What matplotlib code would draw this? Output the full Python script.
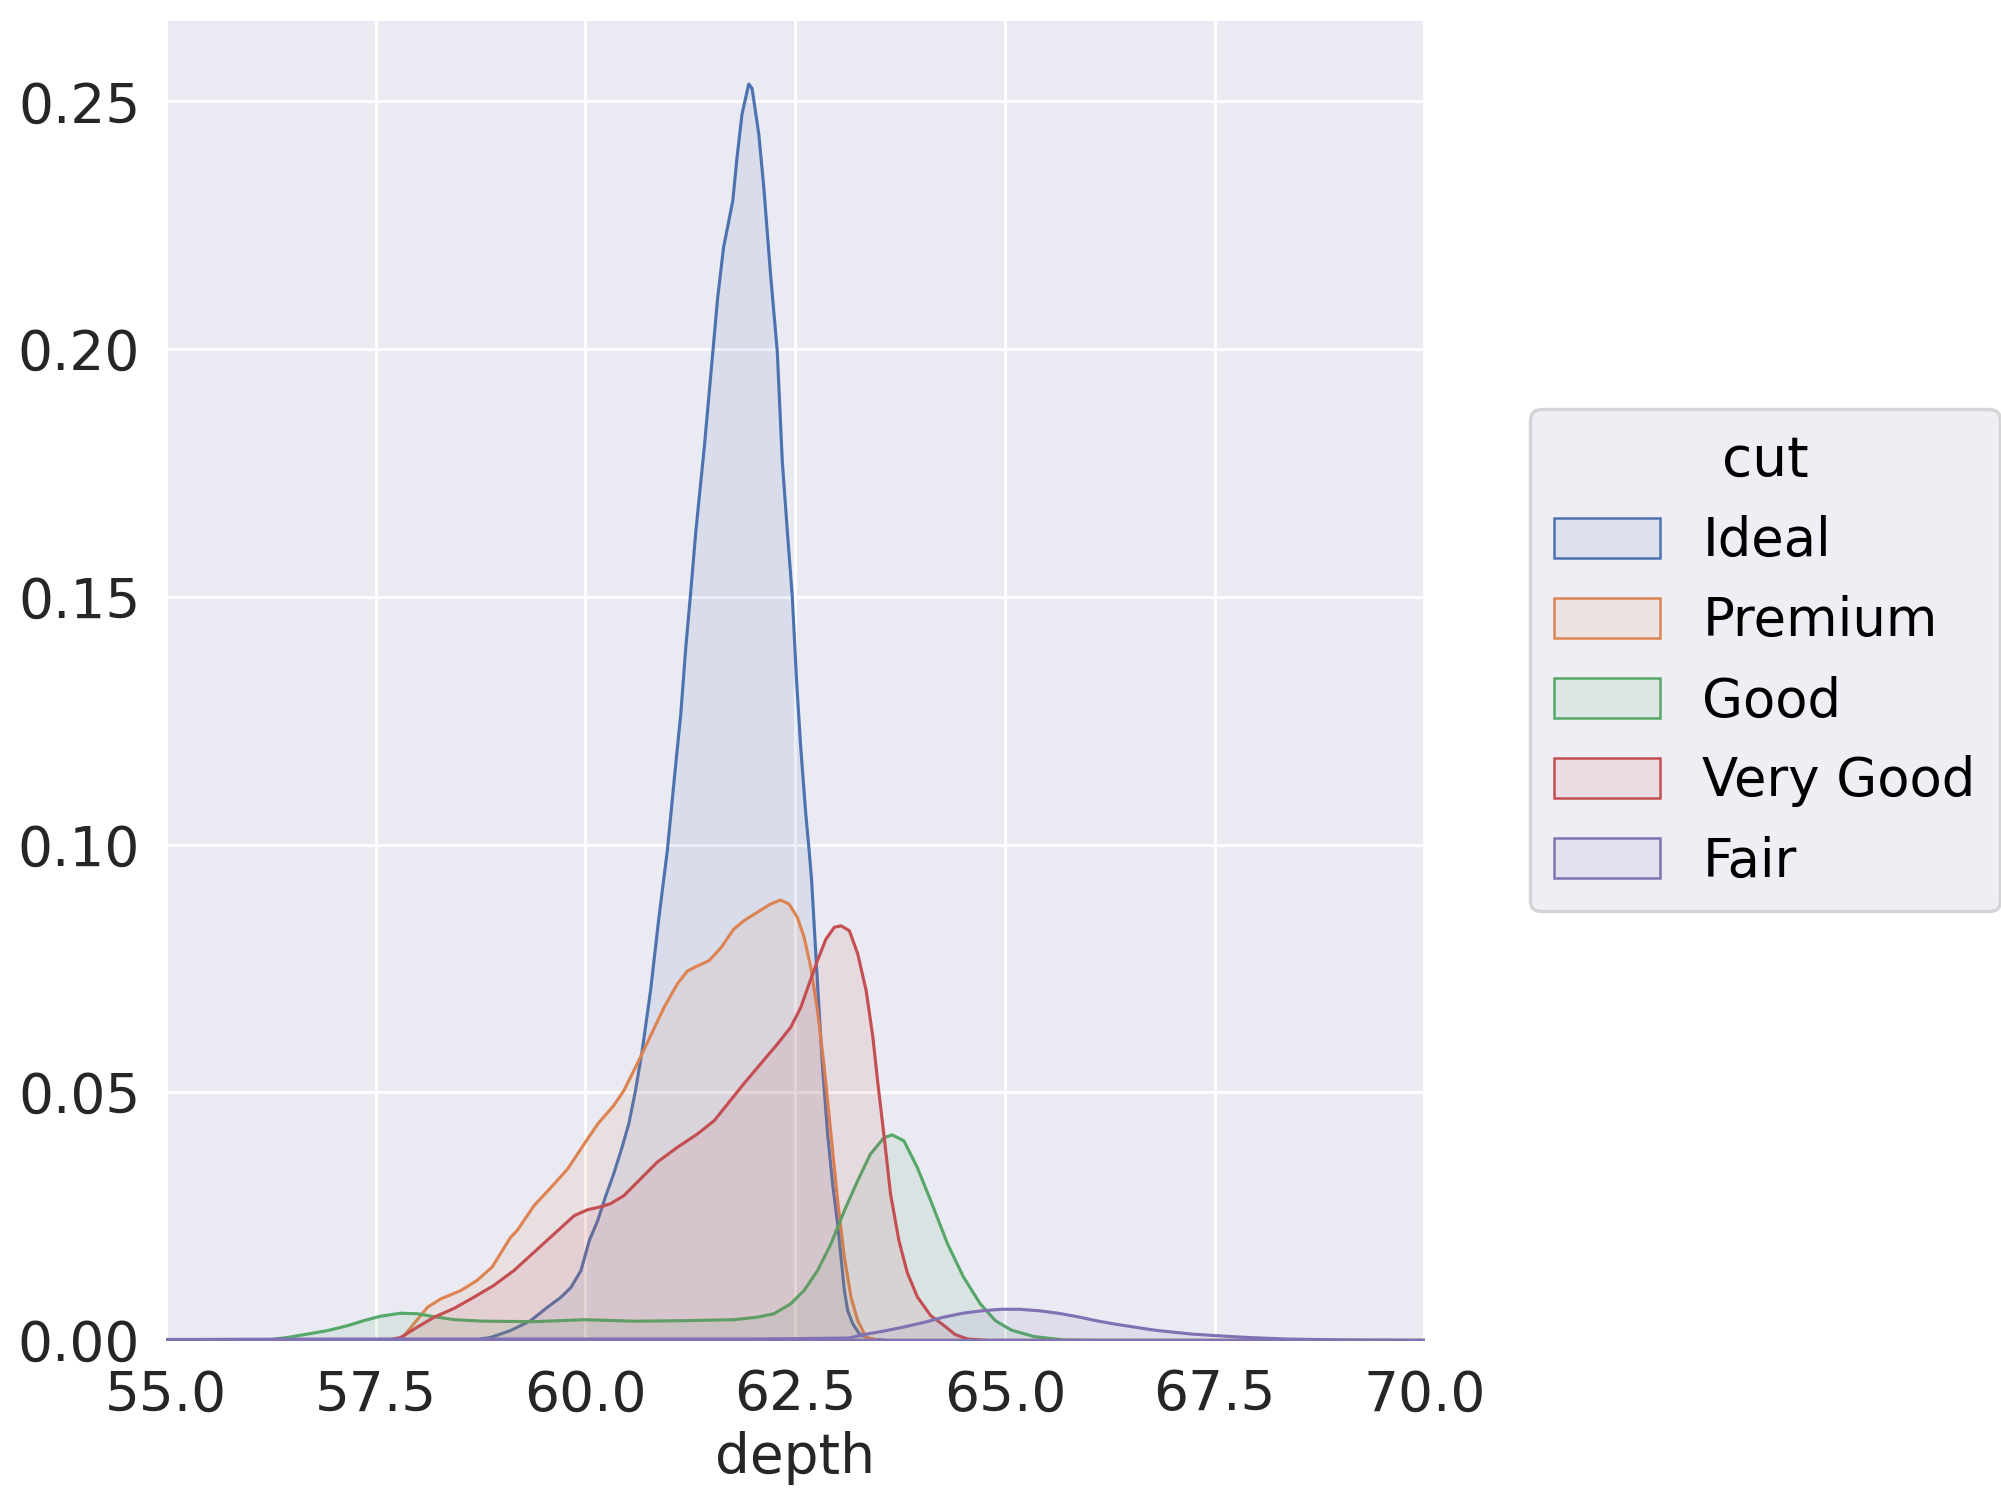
import numpy as np
import matplotlib
matplotlib.use("Agg")
import matplotlib.pyplot as plt
from matplotlib.patches import Patch
from matplotlib.colors import to_rgba

# ---------------- data ----------------
cut_levels = ["Ideal", "Premium", "Good", "Very Good", "Fair"]
cut_colors = ["#4C72B0", "#DD8452", "#55A868", "#C44E52", "#8172B3"]

ideal_x = [55.0, 58.0, 58.63, 58.86, 59.10, 59.34, 59.54, 59.70, 59.82, 59.94, 60.04,
           60.14, 60.23, 60.33, 60.43, 60.51, 60.59, 60.67, 60.77, 60.87, 60.97, 61.07,
           61.13, 61.19, 61.25, 61.31, 61.37, 61.41, 61.51, 61.57, 61.64, 61.75, 61.80,
           61.86, 61.94, 61.98, 62.06, 62.12, 62.20, 62.28, 62.34, 62.40, 62.46, 62.51,
           62.56, 62.62, 62.66, 62.69, 62.76, 62.82, 62.88, 62.94, 63.00, 63.04, 63.08,
           63.12, 63.18, 63.26, 63.39, 63.60, 70.0]
ideal_y = [0.0, 0.0, 0.0, 0.0006, 0.0020, 0.0040, 0.0067, 0.0087, 0.0107, 0.0141, 0.0202,
           0.0242, 0.0289, 0.0336, 0.0390, 0.0437, 0.0504, 0.0585, 0.0706, 0.0854, 0.0989, 0.1163,
           0.1264, 0.1399, 0.1513, 0.1634, 0.1735, 0.1802, 0.1991, 0.2105, 0.2206, 0.2300, 0.2387,
           0.2475, 0.2536, 0.2527, 0.2435, 0.2327, 0.2152, 0.1997, 0.1775, 0.1634, 0.1500, 0.1332,
           0.1197, 0.1063, 0.0989, 0.0928, 0.0720, 0.0551, 0.0417, 0.0316, 0.0235, 0.0168, 0.0101,
           0.0060, 0.0034, 0.0013, 0.0003, 0.0, 0.0]

premium_x = [55.0, 57.60, 57.79, 57.95, 58.11, 58.27, 58.51, 58.70, 58.88, 59.10, 59.18,
             59.38, 59.60, 59.78, 59.98, 60.14, 60.33, 60.45, 60.61, 60.77, 60.93, 61.09,
             61.21, 61.33, 61.47, 61.61, 61.76, 61.88, 62.04, 62.20, 62.32, 62.42, 62.52,
             62.60, 62.68, 62.76, 62.84, 62.92, 63.00, 63.08, 63.16, 63.24, 63.34, 63.50, 70.0]
premium_y = [0.0, 0.0, 0.0001, 0.0034, 0.0067, 0.0084, 0.0101, 0.0121, 0.0148, 0.0208, 0.0222,
             0.0272, 0.0312, 0.0346, 0.0397, 0.0437, 0.0474, 0.0504, 0.0558, 0.0615, 0.0672, 0.0720,
             0.0746, 0.0756, 0.0767, 0.0793, 0.0830, 0.0847, 0.0864, 0.0881, 0.0889, 0.0881, 0.0854,
             0.0814, 0.0753, 0.0666, 0.0551, 0.0417, 0.0282, 0.0168, 0.0087, 0.0040, 0.0006, 0.0, 0.0]

good_x = [55.0, 56.00, 56.20, 56.44, 56.68, 56.92, 57.16, 57.35, 57.55, 57.79, 57.99,
          58.19, 58.43, 58.78, 59.38, 59.98, 60.57, 61.17, 61.76, 62.04, 62.24, 62.44,
          62.60, 62.76, 62.92, 63.08, 63.24, 63.39, 63.55, 63.65, 63.79, 63.95, 64.11,
          64.31, 64.50, 64.70, 64.88, 65.07, 65.34, 65.70, 66.20, 70.0]
good_y = [0.0, 0.0, 0.0001, 0.0006, 0.0013, 0.0020, 0.0030, 0.0040, 0.0049, 0.0055, 0.0054,
          0.0048, 0.0042, 0.0039, 0.0038, 0.0042, 0.0039, 0.0040, 0.0042, 0.0047, 0.0054, 0.0074,
          0.0101, 0.0141, 0.0195, 0.0262, 0.0323, 0.0376, 0.0409, 0.0415, 0.0403, 0.0349, 0.0282,
          0.0195, 0.0128, 0.0074, 0.0040, 0.0021, 0.0008, 0.0001, 0.0, 0.0]

verygood_x = [55.0, 57.40, 57.63, 57.79, 57.99, 58.19, 58.43, 58.66, 58.90, 59.14, 59.38,
              59.62, 59.86, 60.02, 60.18, 60.29, 60.45, 60.65, 60.85, 61.09, 61.33, 61.53,
              61.72, 61.88, 62.08, 62.28, 62.44, 62.56, 62.66, 62.76, 62.86, 62.96, 63.04,
              63.14, 63.24, 63.34, 63.42, 63.48, 63.56, 63.63, 63.73, 63.83, 63.95, 64.11,
              64.27, 64.40, 64.55, 64.80, 70.0]
verygood_y = [0.0, 0.0, 0.0001, 0.0006, 0.0027, 0.0047, 0.0065, 0.0087, 0.0111, 0.0141, 0.0178,
              0.0215, 0.0252, 0.0264, 0.0270, 0.0276, 0.0292, 0.0326, 0.0360, 0.0390, 0.0417, 0.0444,
              0.0484, 0.0518, 0.0558, 0.0598, 0.0632, 0.0672, 0.0720, 0.0767, 0.0810, 0.0834, 0.0837,
              0.0827, 0.0780, 0.0706, 0.0612, 0.0518, 0.0403, 0.0296, 0.0202, 0.0137, 0.0088, 0.0050,
              0.0030, 0.0012, 0.0003, 0.0, 0.0]

fair_x = [55.0, 57.0, 60.0, 62.0, 62.60, 63.13, 63.35, 63.58, 63.81, 64.04, 64.26, 64.49,
          64.72, 64.95, 65.17, 65.40, 65.63, 65.86, 66.08, 66.31, 66.54, 66.77, 66.99,
          67.22, 67.49, 67.90, 68.36, 69.04, 70.0]
fair_y = [0.0002, 0.0003, 0.0003, 0.0003, 0.0004, 0.0005, 0.0013, 0.0020, 0.0028, 0.0037, 0.0047,
          0.0055, 0.0060, 0.0063, 0.0063, 0.0060, 0.0055, 0.0048, 0.0040, 0.0033, 0.0027, 0.0021,
          0.0017, 0.0013, 0.0010, 0.0006, 0.0003, 0.0001, 0.0]

series = {
    "Ideal": (ideal_x, ideal_y),
    "Premium": (premium_x, premium_y),
    "Good": (good_x, good_y),
    "Very Good": (verygood_x, verygood_y),
    "Fair": (fair_x, fair_y),
}

x_label = "depth"
legend_title = "cut"
x_ticks = [55.0, 57.5, 60.0, 62.5, 65.0, 67.5, 70.0]
y_ticks = [0.00, 0.05, 0.10, 0.15, 0.20, 0.25]

# ---------------- figure ----------------
W, H, DPI = 2001, 1505, 300
fig = plt.figure(figsize=(W / DPI, H / DPI), dpi=DPI)
fig.patch.set_facecolor("white")

ax_left, ax_right, ax_top, ax_bottom = 166, 1424.4, 20.7, 1340
ax = fig.add_axes([ax_left / W, 1 - ax_bottom / H,
                   (ax_right - ax_left) / W, (ax_bottom - ax_top) / H])
ax.set_facecolor("#EAEAF2")
for s in ax.spines.values():
    s.set_visible(False)
ax.grid(True, color="white", linewidth=0.7)
ax.set_axisbelow(True)

fill_alpha = 0.1
line_w = 0.75
for name, col in zip(cut_levels, cut_colors):
    xs, ys = series[name]
    ax.fill_between(xs, 0, ys, facecolor=to_rgba(col, fill_alpha), edgecolor=col,
                    linewidth=line_w)

ax.set_xlim(55, 70)
ax.set_ylim(0, max(ideal_y) * 1.05)
ax.set_xticks(x_ticks)
ax.set_yticks(y_ticks)
ax.set_xticklabels([f"{v:.1f}" for v in x_ticks])
ax.set_yticklabels([f"{v:.2f}" for v in y_ticks])
ax.tick_params(axis="x", length=0, pad=6.8, labelsize=13.2, colors="#262626")
ax.tick_params(axis="y", length=0, pad=6.2, labelsize=13.2, colors="#262626")
ax.set_xlabel(x_label, fontsize=13.2, color="#262626", labelpad=2.0)
ax.set_ylabel("")

handles = [Patch(facecolor=to_rgba(c, fill_alpha), edgecolor=c, linewidth=0.6)
           for c in cut_colors]
leg = fig.legend(handles, cut_levels, title=legend_title, loc="center",
                 bbox_to_anchor=(1765 / W, 1 - 660.4 / H),
                 fontsize=12.7, title_fontsize=13.2, frameon=True, fancybox=True,
                 framealpha=0.8, facecolor="#EAEAF2", edgecolor="#cccccc",
                 handlelength=2.0, handleheight=0.8, handletextpad=0.8,
                 labelspacing=0.53, borderpad=0.45)
leg.get_frame().set_linewidth(0.8)
for t in leg.get_texts():
    t.set_color("black")
leg.get_title().set_color("black")

fig.savefig("out.png", dpi=DPI, facecolor="white")
